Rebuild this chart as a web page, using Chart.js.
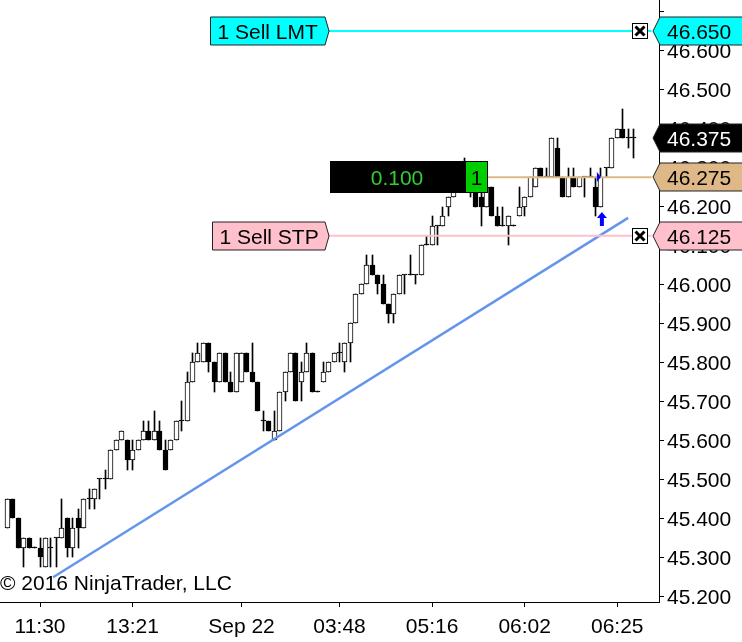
<!DOCTYPE html>
<html>
<head>
<meta charset="utf-8">
<title>Chart</title>
<script src="https://cdn.jsdelivr.net/npm/chart.js@4"></script>
<style>
html, body { margin: 0; padding: 0; background: #fff; }
canvas { display: block; }
</style>
</head>
<body>
<canvas id="myChart" width="742" height="642"></canvas>
<script>
// bars, one row per bar: open, high, low, close
var opens = [
45.375,45.45,45.4,45.325,45.35,45.325,45.325,45.275,45.325,45.35,
45.35,45.4,45.325,45.4,45.375,45.45,45.45,45.5,45.5,45.5,
45.575,45.6,45.6,45.55,45.575,45.6,45.625,45.6,45.625,45.575,
45.575,45.6,45.65,45.65,45.75,45.8,45.8,45.85,45.8,45.75,
45.825,45.75,45.725,45.75,45.825,45.775,45.75,45.65,45.65,45.6,
45.625,45.725,45.775,45.825,45.75,45.775,45.825,45.725,45.75,45.775,
45.8,45.825,45.8,45.85,45.9,45.975,46,46.05,46.025,46,
45.95,45.925,45.975,46.025,46.025,46.025,46.025,46.1,46.1,46.15,
46.15,46.2,46.225,46.25,46.275,46.3,46.275,46.225,46.2,46.25,
46.175,46.15,46.15,46.15,46.175,46.2,46.225,46.25,46.3,46.275,
46.275,46.35,46.275,46.225,46.275,46.25,46.275,46.275,46.25,46.2,
46.3,46.3,46.375,46.4,46.375,46.375];
var closes = [
45.45,45.4,45.325,45.35,45.325,45.325,45.3,45.35,45.325,45.35,
45.375,45.325,45.375,45.375,45.45,45.45,45.475,45.5,45.5,45.575,
45.6,45.625,45.55,45.575,45.6,45.625,45.6,45.625,45.575,45.525,
45.6,45.65,45.65,45.75,45.8,45.825,45.85,45.8,45.75,45.825,
45.75,45.725,45.825,45.825,45.775,45.75,45.675,45.65,45.625,45.625,
45.725,45.775,45.825,45.7,45.775,45.825,45.725,45.725,45.775,45.8,
45.825,45.825,45.85,45.9,45.975,46,46.05,46.025,46,45.95,
45.925,45.975,46.025,46.025,46.025,46.025,46.1,46.1,46.15,46.15,
46.175,46.225,46.25,46.275,46.3,46.275,46.2,46.2,46.25,46.175,
46.15,46.15,46.175,46.15,46.2,46.225,46.275,46.3,46.275,46.275,
46.375,46.275,46.225,46.275,46.25,46.275,46.275,46.275,46.2,46.275,
46.3,46.375,46.4,46.375,46.375,46.375];
var highs = [
45.45,45.45,45.4,45.35,45.35,45.325,45.35,45.35,45.35,45.35,
45.45,45.4,45.4,45.425,45.45,45.475,45.475,45.5,45.525,45.575,
45.6,45.625,45.6,45.6,45.6,45.65,45.65,45.675,45.65,45.6,
45.6,45.65,45.7,45.775,45.825,45.85,45.85,45.85,45.8,45.825,
45.825,45.775,45.825,45.825,45.825,45.85,45.75,45.675,45.65,45.675,
45.725,45.775,45.825,45.825,45.8,45.85,45.825,45.725,45.8,45.8,
45.825,45.85,45.85,45.9,45.975,46,46.075,46.075,46.025,46.025,
45.95,45.975,46.025,46.025,46.075,46.025,46.1,46.125,46.175,46.15,
46.2,46.225,46.25,46.275,46.325,46.3,46.275,46.25,46.25,46.25,
46.2,46.2,46.175,46.15,46.25,46.225,46.275,46.3,46.3,46.3,
46.375,46.375,46.275,46.3,46.3,46.275,46.275,46.3,46.275,46.3,
46.3,46.375,46.4,46.45,46.4,46.4];
var lows = [
45.375,45.4,45.325,45.275,45.325,45.325,45.275,45.275,45.275,45.275,
45.35,45.3,45.3,45.325,45.375,45.425,45.425,45.45,45.475,45.5,
45.575,45.6,45.525,45.525,45.575,45.6,45.6,45.6,45.575,45.525,
45.575,45.6,45.625,45.65,45.75,45.8,45.8,45.775,45.725,45.75,
45.75,45.725,45.725,45.75,45.775,45.75,45.675,45.625,45.625,45.6,
45.625,45.7,45.775,45.7,45.7,45.775,45.725,45.725,45.75,45.775,
45.8,45.8,45.775,45.8,45.9,45.975,46,46.025,45.975,45.95,
45.9,45.9,45.975,45.975,46.025,46,46.025,46.1,46.1,46.1,
46.15,46.175,46.225,46.25,46.275,46.225,46.2,46.15,46.2,46.175,
46.15,46.15,46.1,46.15,46.175,46.175,46.225,46.25,46.275,46.275,
46.275,46.275,46.225,46.225,46.25,46.25,46.225,46.275,46.175,46.2,
46.275,46.3,46.375,46.375,46.35,46.325];

var tickBars = [6, 23, 43, 61, 78, 95, 112];
var tickNames = ["11:30", "13:21", "Sep 22", "03:48", "05:16", "06:02", "06:25"];
var priceTicks = [45.2, 45.3, 45.4, 45.5, 45.6, 45.7, 45.8, 45.9, 46, 46.1, 46.2, 46.3, 46.4, 46.5, 46.6, 46.7];

var sellLimit = 46.65;
var sellStop = 46.125;
var entry = 46.275;
var lastPrice = 46.375;
var trendBars = [8.4, 114];
var trendPrices = [45.249, 46.171];

var font = "Liberation Sans, Arial, sans-serif";

var bars = opens.map(function (o, i) { return i; });

function pick(test) {
    return bars.filter(test).map(function (i) {
        return { x: i, y: [opens[i], closes[i]] };
    });
}
var upBars = pick(function (i) { return closes[i] > opens[i]; });
var downBars = pick(function (i) { return closes[i] < opens[i]; });
var flatBars = pick(function (i) { return closes[i] === opens[i]; });
var wicks = bars.map(function (i) { return { x: i, y: [lows[i], highs[i]] }; });

function flatLine(fromBar, toBar, price, color) {
    return {
        type: "line",
        data: [{ x: fromBar, y: price }, { x: toBar, y: price }],
        borderColor: color,
        borderWidth: 2,
        pointRadius: 0,
        order: 1
    };
}

function bodyset(data, fill, order) {
    return {
        data: data,
        grouped: false,
        barThickness: 5,
        minBarLength: 1,
        backgroundColor: fill,
        borderColor: "#000",
        borderWidth: 1,
        borderSkipped: false,
        order: order
    };
}

// price tags and the rest of the order-entry furniture
function rightTag(ctx, y, fill, textColor, label) {
    ctx.beginPath();
    ctx.moveTo(653, y);
    ctx.lineTo(660, y - 14);
    ctx.lineTo(743, y - 14);
    ctx.lineTo(743, y + 14);
    ctx.lineTo(660, y + 14);
    ctx.closePath();
    ctx.fillStyle = fill;
    ctx.fill();
    ctx.strokeStyle = "#222";
    ctx.lineWidth = 1;
    ctx.stroke();
    ctx.fillStyle = textColor;
    ctx.textAlign = "left";
    ctx.textBaseline = "alphabetic";
    ctx.fillText(label, 667, y + 8);
}

function leftTag(ctx, left, y, fill, label) {
    ctx.beginPath();
    ctx.moveTo(left, y - 14);
    ctx.lineTo(325, y - 14);
    ctx.lineTo(329, y);
    ctx.lineTo(325, y + 14);
    ctx.lineTo(left, y + 14);
    ctx.closePath();
    ctx.fillStyle = fill;
    ctx.fill();
    ctx.strokeStyle = "#222";
    ctx.lineWidth = 1;
    ctx.stroke();
    ctx.fillStyle = "#000";
    ctx.textAlign = "left";
    ctx.textBaseline = "alphabetic";
    ctx.fillText(label, left + 7, y + 8);
}

function closeBox(ctx, y) {
    ctx.fillStyle = "#fff";
    ctx.fillRect(632.5, y - 7.5, 15, 15);
    ctx.strokeStyle = "#000";
    ctx.lineWidth = 1;
    ctx.strokeRect(632.5, y - 7.5, 15, 15);
    ctx.lineWidth = 3;
    ctx.beginPath();
    ctx.moveTo(635.5, y - 4.5);
    ctx.lineTo(644.5, y + 4.5);
    ctx.moveTo(644.5, y - 4.5);
    ctx.lineTo(635.5, y + 4.5);
    ctx.stroke();
}

// the original draws on whole pixels, so snap the bars before they are painted
var snap = {
    id: "snap",
    afterDatasetsUpdate: function (chart) {
        chart.data.datasets.forEach(function (ds, d) {
            var meta = chart.getDatasetMeta(d);
            if (meta.type !== "bar") { return; }
            meta.data.forEach(function (el) {
                el.x = Math.floor(el.x) + 0.5;
                el.y = Math.round(el.y);
                el.base = Math.round(el.base);
                if (el.base === el.y) { el.base = el.y + 1; }
                el.height = el.base - el.y;
            });
        });
    }
};

var overlay = {
    id: "overlay",
    afterDraw: function (chart) {
        var ctx = chart.ctx;
        var sy = chart.scales.y;
        var sx = chart.scales.x;
        var yLimit = Math.round(sy.getPixelForValue(sellLimit));
        var yStop = Math.round(sy.getPixelForValue(sellStop));
        var yEntry = Math.round(sy.getPixelForValue(entry));
        var yLast = Math.round(sy.getPixelForValue(lastPrice));

        ctx.save();
        ctx.font = "21px " + font;

        ctx.fillStyle = "#000";
        ctx.textAlign = "left";
        ctx.textBaseline = "alphabetic";
        ctx.fillText("\u00A9 2016 NinjaTrader, LLC", 0, 590);

        // position box
        ctx.fillStyle = "#000";
        ctx.fillRect(330, yEntry - 16, 135, 32);
        ctx.fillStyle = "#32CD32";
        ctx.textAlign = "center";
        ctx.fillText("0.100", 397, yEntry + 8);
        ctx.fillStyle = "#00CD00";
        ctx.fillRect(465, yEntry - 16, 23, 32);
        ctx.strokeStyle = "#000";
        ctx.lineWidth = 1;
        ctx.strokeRect(465.5, yEntry - 15.5, 22, 31);
        ctx.fillStyle = "#000";
        ctx.fillText("1", 476.5, yEntry + 8);

        leftTag(ctx, 210.5, yLimit, "#00FFFF", "1 Sell LMT");
        leftTag(ctx, 212.5, yStop, "#FFC0CB", "1 Sell STP");
        closeBox(ctx, yLimit);
        closeBox(ctx, yStop);

        rightTag(ctx, yLimit, "#00FFFF", "#000", "46.650");
        rightTag(ctx, yLast, "#000", "#fff", "46.375");
        rightTag(ctx, yEntry, "#DEB887", "#000", "46.275");
        rightTag(ctx, yStop, "#FFC0CB", "#000", "46.125");

        // entry marker and its small flag
        var ax = sx.getPixelForValue(109) + 1;
        ctx.fillStyle = "#0000FF";
        ctx.beginPath();
        ctx.moveTo(ax, 212);
        ctx.lineTo(ax + 5, 218);
        ctx.lineTo(ax + 2, 218);
        ctx.lineTo(ax + 2, 226);
        ctx.lineTo(ax - 2, 226);
        ctx.lineTo(ax - 2, 218);
        ctx.lineTo(ax - 5, 218);
        ctx.closePath();
        ctx.fill();
        ctx.beginPath();
        ctx.moveTo(ax - 5, yEntry - 5);
        ctx.lineTo(ax - 1, yEntry);
        ctx.lineTo(ax - 5, yEntry + 5);
        ctx.closePath();
        ctx.fill();
        ctx.restore();
    }
};

var wickSet = bodyset(wicks, "#000", 5);
wickSet.barThickness = 1;
wickSet.borderWidth = 0;

var ctx = document.getElementById("myChart");

var myChart = new Chart(ctx, {
    type: "bar",
    data: {
        datasets: [
            wickSet,
            bodyset(upBars, "#fff", 4),
            bodyset(downBars, "#000", 4),
            bodyset(flatBars, "#000", 4),
            flatLine(59, 118.3, sellLimit, "#00FFFF"),
            flatLine(59, 118.3, sellStop, "#FFC0CB"),
            flatLine(88.2, 118.3, entry, "#DEB887"),
            {
                type: "line",
                data: [{ x: trendBars[0], y: trendPrices[0] }, { x: trendBars[1], y: trendPrices[1] }],
                borderColor: "#6495ED",
                borderWidth: 2.5,
                pointRadius: 0,
                order: 2
            }
        ]
    },
    options: {
        responsive: false,
        animation: false,
        devicePixelRatio: 1,
        layout: { padding: 0 },
        plugins: { legend: { display: false }, tooltip: { enabled: false } },
        scales: {
            x: {
                type: "linear",
                offset: false,
                min: -1.35,
                max: 119.67,
                afterBuildTicks: function (scale) {
                    scale.ticks = tickBars.map(function (b) { return { value: b }; });
                },
                afterFit: function (scale) {
                    scale.height = 40;
                    scale.paddingLeft = 0;
                    scale.paddingRight = 0;
                },
                grid: { offset: false, drawOnChartArea: false, tickLength: 5, tickColor: "#000" },
                border: { color: "#000" },
                ticks: {
                    autoSkip: false,
                    maxRotation: 0,
                    padding: 8,
                    color: "#000",
                    font: { family: font, size: 21 },
                    callback: function (value) { return tickNames[tickBars.indexOf(value)]; }
                }
            },
            y: {
                position: "right",
                min: 45.1854,
                max: 46.7298,
                afterBuildTicks: function (scale) {
                    scale.ticks = priceTicks.map(function (p) { return { value: p }; });
                },
                afterFit: function (scale) {
                    scale.width = 83;
                    scale.paddingTop = 0;
                    scale.paddingBottom = 0;
                },
                grid: { drawOnChartArea: false, tickLength: 5, tickColor: "#000" },
                border: { color: "#000" },
                ticks: {
                    autoSkip: false,
                    padding: 3,
                    labelOffset: 2,
                    color: "#000",
                    font: { family: font, size: 21 },
                    callback: function (value) { return value === 46.7 ? "" : value.toFixed(3); }
                }
            }
        }
    },
    plugins: [snap, overlay]
});
</script>
</body>
</html>
